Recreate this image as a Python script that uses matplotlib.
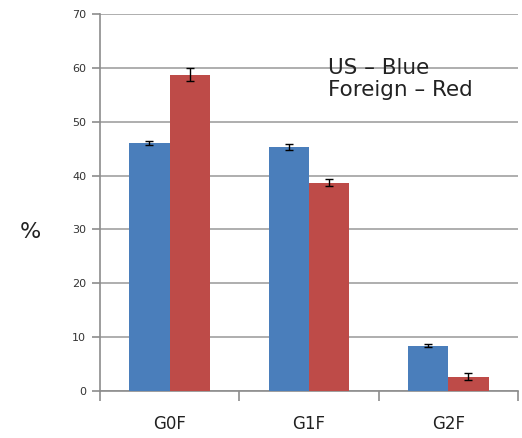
import matplotlib
matplotlib.use("Agg")
import matplotlib.pyplot as plt
import numpy as np

categories = ["G0F", "G1F", "G2F"]
us_values = [46.1, 45.3, 8.4]
us_errors = [0.4, 0.5, 0.3]
foreign_values = [58.7, 38.7, 2.65]
foreign_errors = [1.2, 0.6, 0.6]
y_ticks = [0, 10, 20, 30, 40, 50, 60, 70]

fig = plt.figure(figsize=(5.22, 4.38), dpi=100)
ax = fig.add_axes([0.1916, 0.1073, 0.8004, 0.8607])

x = np.arange(len(categories))
w = 0.29
err_kw = dict(ecolor="black", capsize=3, elinewidth=1, capthick=1)
ax.bar(x - w / 2, us_values, w, yerr=us_errors, color="#4A7EBB", error_kw=err_kw, zorder=3)
ax.bar(x + w / 2, foreign_values, w, yerr=foreign_errors, color="#BE4B48", error_kw=err_kw, zorder=3)

ax.set_xlim(-0.5, len(categories) - 0.5)
ax.set_ylim(0, 70)
ax.set_yticks(y_ticks)
ax.yaxis.grid(True, color="#999999", linewidth=1.1, zorder=0)
ax.set_axisbelow(True)

for s in ["top", "right"]:
    ax.spines[s].set_visible(False)
for s in ["left", "bottom"]:
    ax.spines[s].set_color("#8C8C8C")
    ax.spines[s].set_linewidth(1.2)

ax.set_xticks(x)
ax.set_xticklabels(categories, fontsize=12, color="#222222")
ax.tick_params(axis="x", length=0, pad=17)
ax.set_xticks(np.arange(-0.5, len(categories), 1.0), minor=True)
ax.tick_params(axis="x", which="minor", length=7, color="#8C8C8C", width=1.2)
ax.tick_params(axis="y", length=6, color="#8C8C8C", width=1.2, labelsize=8, labelcolor="#333333", pad=4)

fig.text(0.058, 0.47, "%", fontsize=16, ha="center", va="center", color="#222222")
ax.text(0.545, 0.828, "US \u2013 Blue\nForeign \u2013 Red", transform=ax.transAxes,
        fontsize=15.5, ha="left", va="center", color="#222222", linespacing=1.15)

fig.savefig("out.png", dpi=100)
